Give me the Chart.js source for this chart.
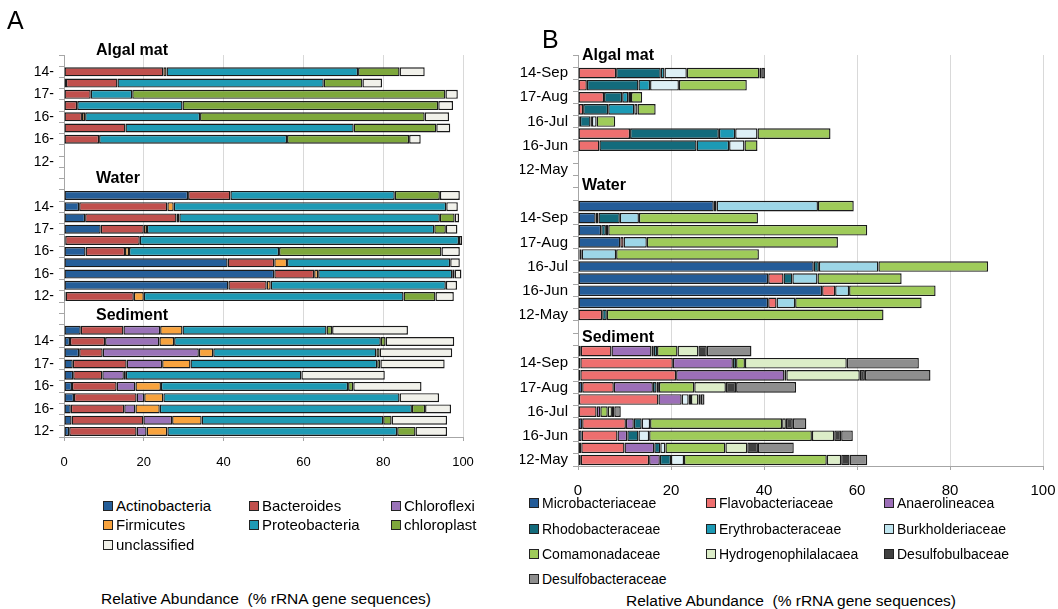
<!DOCTYPE html>
<html>
<head>
<meta charset="utf-8">
<script src="https://cdn.jsdelivr.net/npm/chart.js@4.4.1/dist/chart.umd.min.js"></script>
<style>
  body { margin: 0; background: #fff; width: 1058px; height: 609px; position: relative; overflow: hidden;
         font-family: "Liberation Sans", Arial, sans-serif; color: #000; }
  #wrapA { position: absolute; left: 0; top: 0; width: 520px; height: 480px; }
  #wrapB { position: absolute; left: 520px; top: 0; width: 560px; height: 500px; }
  .txt { position: absolute; white-space: nowrap; line-height: 1; }
  .panel { font-size: 25px; }
  .grp { font-weight: bold; font-size: 16px; }
  .axt { font-size: 15.5px; }
  .leg { position: absolute; white-space: nowrap; line-height: 1; display: flex; align-items: center; }
  .leg i { display: inline-block; width: 8px; height: 8px; border: 1px solid #222; margin-right: 3px; }
  .legA { font-size: 15px; }
  .legB { font-size: 14px; }
</style>
</head>
<body>
<div id="wrapA"><canvas id="chartA" width="520" height="480"></canvas></div>
<div id="wrapB"><canvas id="chartB" width="560" height="500"></canvas></div>

<div class="txt panel" style="left:7px;top:8px;">A</div>
<div class="txt panel" style="left:542px;top:27px;">B</div>

<div class="txt grp" style="left:96px;top:42px;">Algal mat</div>
<div class="txt grp" style="left:96px;top:170px;">Water</div>
<div class="txt grp" style="left:96px;top:307px;">Sediment</div>
<div class="txt grp" style="left:582px;top:47px;">Algal mat</div>
<div class="txt grp" style="left:582px;top:177px;">Water</div>
<div class="txt grp" style="left:582px;top:329px;">Sediment</div>

<div id="legendA"></div>
<div id="legendB"></div>

<div class="txt axt" style="left:101px;top:591px;">Relative Abundance&nbsp;&nbsp;(% rRNA gene sequences)</div>
<div class="txt axt" style="left:626px;top:593px;">Relative Abundance&nbsp;&nbsp;(% rRNA gene sequences)</div>

<script>
// row labels of one sample group (10 rows, every other one labelled)
const rowsA = ['', '14-', '', '17-', '', '16-', '', '16-', '', '12-'];
const rowsB = ['', '14-Sep', '', '17-Aug', '', '16-Jul', '', '16-Jun', '', '12-May'];
const ticksX = [0, 20, 40, 60, 80, 100];

// ---- panel A (phyla) : algal mat rows 1-10, water rows 1-10, sediment rows 1-10
const actinobacteria = [
  null, 0, 0.5, 0, 0, 0, 0, 0, null, null,
  31.1, 3.8, 5.3, 9.2, 0.3, 5.4, 41.0, 52.7, 41.2, 0.4,
  4.2, 1.5, 3.8, 2.2, 2.3, 2.0, 2.5, 1.7, 1.9, 1.3];
const bacteroides = [
  null, 24.9, 12.9, 6.7, 3.3, 4.5, 15.4, 8.8, null, null,
  10.6, 22.1, 22.9, 10.8, 18.7, 9.9, 11.7, 10.0, 9.6, 17.1,
  10.7, 8.8, 5.9, 13.5, 7.3, 11.2, 15.7, 13.4, 18.0, 16.9];
const chloroflexi = [
  null, 0, 0, 0, 0, 0, 0, 0, null, null,
  0, 0, 0, 0, 0, 0, 0, 0, 0, 0,
  9.2, 13.6, 24.1, 8.9, 5.4, 4.7, 1.9, 2.8, 7.2, 2.5];
const firmicutes = [
  null, 0.8, 0, 0, 0, 0.8, 0, 0, null, null,
  0, 1.6, 0.7, 0.8, 0, 1.0, 3.2, 1.0, 1.0, 2.5,
  5.6, 3.7, 3.6, 7.1, 0.5, 6.4, 4.8, 6.1, 7.4, 5.2];
const proteobacteria = [
  null, 48.0, 51.7, 10.4, 26.4, 28.8, 57.2, 47.1, null, null,
  41.2, 68.3, 65.3, 72.0, 80.0, 37.6, 40.9, 33.6, 43.9, 65.1,
  36.1, 51.8, 40.9, 46.8, 44.0, 46.9, 59.2, 63.2, 45.5, 57.6];
const chloroplast = [
  null, 10.4, 9.7, 78.5, 64.1, 56.3, 20.7, 30.6, null, null,
  11.3, 0, 3.7, 2.9, 0, 40.7, 0, 0.6, 0, 8.0,
  1.4, 1.2, 0.8, 0.8, 0, 1.3, 0, 3.3, 2.1, 4.6];
const unclassified = [
  null, 6.3, 4.9, 3.1, 3.7, 6.1, 3.5, 2.9, null, null,
  5.0, 2.9, 1.1, 2.9, 0.8, 4.6, 2.4, 1.7, 2.8, 4.6,
  19.0, 17.2, 18.2, 16.1, 20.9, 17.1, 9.9, 6.5, 13.9, 7.9];

// ---- panel B (families)
const microbacteriaceae = [
  null, 0, 0, 0, 0, 0, 0, 0, null, null,
  29.2, 3.8, 5.0, 9.1, 0.3, 50.7, 40.9, 52.5, 40.9, 0,
  0.6, 0.5, 0.5, 0.9, 0.2, 0, 0.9, 0.8, 0.7, 0.6];
const flavobacteriaceae = [
  null, 8.2, 1.9, 5.6, 1.1, 0.4, 11.2, 4.6, null, null,
  0.6, 0.6, 0, 0.7, 0.5, 0, 3.3, 2.8, 1.8, 5.2,
  6.6, 19.9, 20.6, 6.8, 17.1, 4.0, 9.4, 7.7, 9.3, 14.7];
const anaerolineacea = [
  null, 0, 0, 0, 0, 0, 0, 0, null, null,
  0, 0, 0, 0, 0, 0, 0, 0, 0, 0,
  8.6, 12.9, 23.3, 8.4, 5.0, 0.8, 1.7, 2.1, 6.4, 2.3];
const rhodobacteraceae = [
  null, 9.6, 11.1, 3.9, 5.4, 2.3, 19.1, 20.9, null, null,
  0, 4.6, 1.0, 0, 0, 1.1, 1.9, 0, 0, 1.0,
  0.5, 0.7, 0.4, 0.8, 0, 0, 1.7, 2.4, 1.3, 2.4];
const erythrobacteraceae = [
  null, 0.8, 2.5, 1.3, 5.6, 0.3, 3.5, 7.0, null, null,
  0, 0, 0, 0, 0, 0, 0, 0, 0, 0,
  0.7, 0, 0, 0.5, 0, 0, 0, 0, 0, 0];
const burkholderiaceae = [
  null, 4.8, 6.2, 0.6, 0.7, 1.0, 4.8, 3.3, null, null,
  21.8, 4.1, 0.5, 5.0, 7.4, 12.8, 5.4, 3.0, 4.0, 0,
  0, 0, 0, 0, 1.5, 0, 1.8, 2.3, 1.1, 2.8];
const comamonadaceae = [
  null, 15.6, 14.6, 2.4, 3.9, 4.0, 15.7, 2.8, null, null,
  7.7, 25.6, 55.7, 41.1, 30.7, 23.6, 18.1, 18.6, 27.2, 59.5,
  4.4, 1.9, 0, 7.6, 0.5, 1.6, 28.4, 35.0, 12.9, 30.7];
const hydrogenophilalacaea = [
  null, 0.4, 0, 0, 0, 0, 0, 0, null, null,
  0, 0, 0, 0, 0, 0, 0, 0, 0, 0,
  4.5, 21.9, 15.8, 6.8, 1.6, 0.9, 0.8, 4.8, 4.7, 3.1];
const desulfobulbaceae = [
  null, 0.8, 0, 0, 0, 0, 0, 0, null, null,
  0, 0, 0, 0, 0, 0, 0, 0, 0, 0,
  1.8, 0, 1.1, 2.2, 0.5, 0.5, 1.5, 1.5, 2.3, 1.8];
const desulfobacteraceae = [
  null, 0, 0, 0, 0, 0, 0, 0, null, null,
  0, 0, 0, 0, 0, 0, 0, 0, 0, 0,
  9.6, 15.5, 14.1, 12.9, 0.8, 1.4, 2.9, 2.5, 7.7, 3.8];

// two empty rows between groups (where the group titles sit)
function withGaps(arr) {
  return [...arr.slice(0, 10), null, null, ...arr.slice(10, 20), null, null, ...arr.slice(20)];
}

const seriesA = [
  ['Actinobacteria', actinobacteria, '#255E99'],
  ['Bacteroides', bacteroides, '#C0504D'],
  ['Chloroflexi', chloroflexi, '#9A73B8'],
  ['Firmicutes', firmicutes, '#F8A33E'],
  ['Proteobacteria', proteobacteria, '#1E9AB4'],
  ['chloroplast', chloroplast, '#7EA83C'],
  ['unclassified', unclassified, '#F1F1EA']
];
const burkWater = '#9DD6E7', burkOther = '#DDF0F6';
const seriesB = [
  ['Microbacteriaceae', microbacteriaceae, '#245C98'],
  ['Flavobacteriaceae', flavobacteriaceae, '#EE6F6F'],
  ['Anaerolineacea', anaerolineacea, '#9C6FB8'],
  ['Rhodobacteraceae', rhodobacteraceae, '#136B7C'],
  ['Erythrobacteraceae', erythrobacteraceae, '#1C9AB5'],
  ['Burkholderiaceae', burkholderiaceae, '#BFE5EF'],
  ['Comamonadaceae', comamonadaceae, '#9FCB5A'],
  ['Hydrogenophilalacaea', hydrogenophilalacaea, '#DCEDC8'],
  ['Desulfobulbaceae', desulfobulbaceae, '#404040'],
  ['Desulfobacteraceae', desulfobacteraceae, '#8E8E8E']
];

function makeChart(id, rows, series, o) {
  const datasets = series.map(([name, vals, color]) => ({
    label: name,
    data: withGaps(vals),
    backgroundColor: name === 'Burkholderiaceae'
      ? (c => (c.dataIndex >= 12 && c.dataIndex < 22) ? burkWater : burkOther)
      : color,
    borderColor: '#1a1a1a',
    borderWidth: 1.4,
    borderSkipped: false,
    barPercentage: o.bar,
    categoryPercentage: 1
  }));
  return new Chart(document.getElementById(id), {
    type: 'bar',
    data: { labels: withGaps(rows.concat(rows, rows)).map(l => l || ''), datasets },
    options: {
      indexAxis: 'y',
      responsive: false,
      animation: false,
      layout: { padding: { left: 0, top: 55, right: o.right, bottom: 0 } },
      plugins: { legend: { display: false }, tooltip: { enabled: false } },
      scales: {
        x: {
          stacked: true, min: 0, max: 100,
          afterBuildTicks: s => { s.ticks = ticksX.map(v => ({ value: v })); },
          afterFit: s => { s.height = o.xh; },
          grid: { color: '#D9D9D9', lineWidth: 1, tickLength: 4, tickColor: '#A6A6A6' },
          border: { color: '#A6A6A6' },
          ticks: { padding: o.xpad, color: '#000', font: { family: 'Liberation Sans', size: o.xfs } }
        },
        y: {
          stacked: true,
          afterFit: s => { s.width = o.yw; },
          grid: { offset: true, drawOnChartArea: false, tickLength: 5, tickColor: '#A6A6A6' },
          border: { color: '#A6A6A6' },
          ticks: { autoSkip: false, padding: 5, color: '#000', font: { family: 'Liberation Sans', size: o.yfs } }
        }
      }
    }
  });
}

makeChart('chartA', rowsA, seriesA, { bar: 0.8, right: 57, xh: 43, xpad: 14, xfs: 13, yw: 64, yfs: 14 });
makeChart('chartB', rowsB, seriesB, { bar: 0.88, right: 37, xh: 34, xpad: 12, xfs: 15, yw: 58, yfs: 15 });

// legends built from the same series lists
function buildLegend(id, series, cls, cols, rowsY) {
  const box = document.getElementById(id);
  series.forEach(([name, , color], i) => {
    const d = document.createElement('div');
    d.className = 'leg ' + cls;
    d.style.left = cols[i % 3] + 'px';
    d.style.top = rowsY[Math.floor(i / 3)] + 'px';
    d.innerHTML = '<i style="background:' + color + '"></i>' + name;
    box.appendChild(d);
  });
}
buildLegend('legendA', seriesA, 'legA', [103, 249, 391], [498, 517, 537]);
buildLegend('legendB', seriesB, 'legB', [529, 706, 884], [496, 522, 547, 572]);
</script>
</body>
</html>
